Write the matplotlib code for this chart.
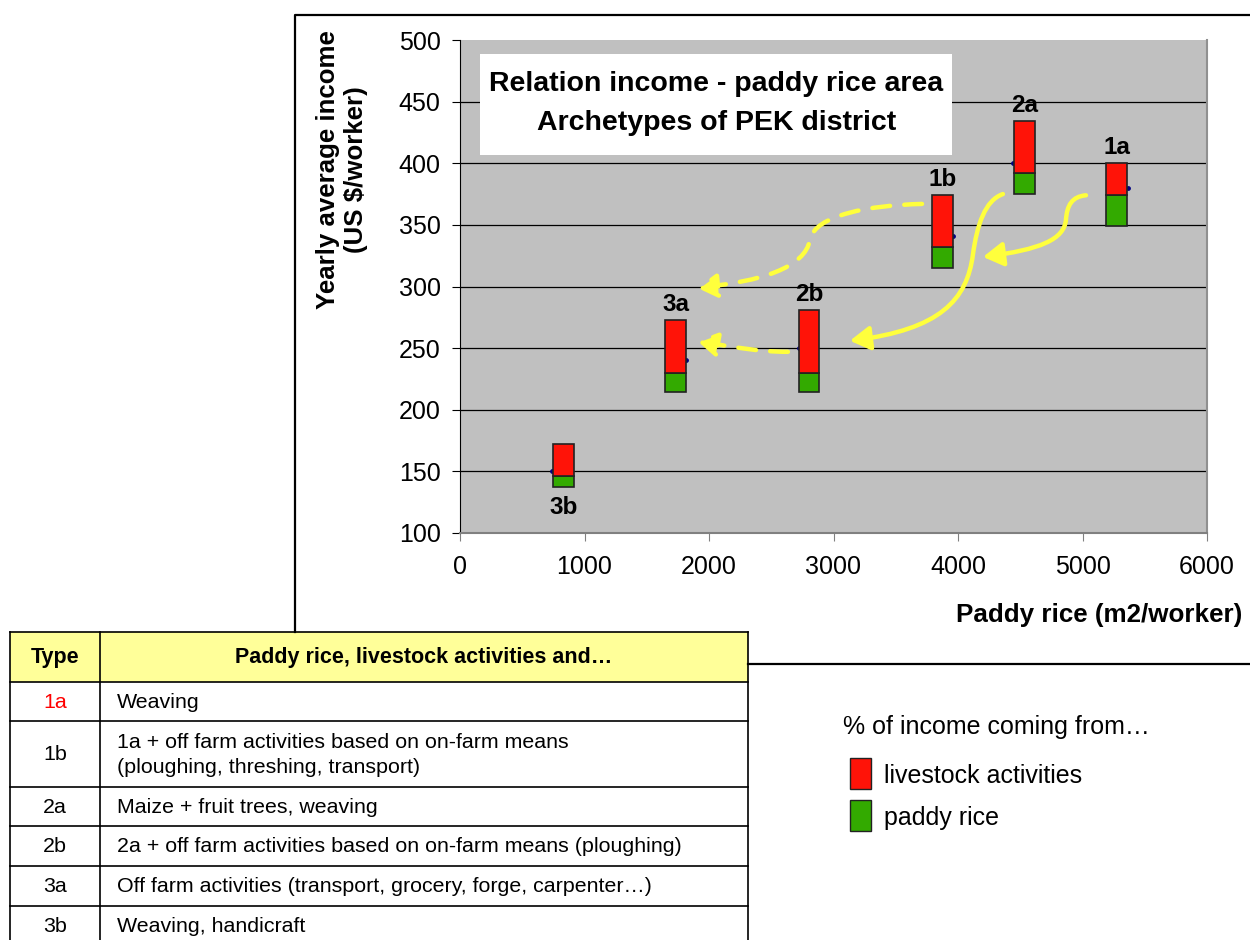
"""Income vs paddy rice area for the PEK district archetypes."""

import matplotlib

matplotlib.use("Agg")

import matplotlib.pyplot as plt
from matplotlib.patches import FancyArrowPatch, Rectangle
from matplotlib.path import Path

plt.rcParams["font.family"] = ["Liberation Sans", "DejaVu Sans"]

# archetypes, bar position on the paddy rice axis and the income spans of each bar
TYPES = ["3b", "3a", "2b", "1b", "2a", "1a"]
BAR_X = [830, 1732, 2803, 3874, 4534, 5273]
BAR_BOTTOM = [137, 214, 214, 315, 375, 349]
RICE_TOP = [146, 230, 230, 332, 392, 374]
TOTAL_TOP = [172, 273, 281, 374, 434, 400]

# the underlying data points (small dots partly hidden by the bars)
POINT_X = [740, 1815, 2720, 3960, 4440, 5365]
POINT_Y = [150, 240, 250, 341, 400, 380]

X_TICKS = [0, 1000, 2000, 3000, 4000, 5000, 6000]
Y_TICKS = [100, 150, 200, 250, 300, 350, 400, 450, 500]

TABLE_TYPES = ["1a", "1b", "2a", "2b", "3a", "3b"]
TABLE_TEXT = [
    "Weaving",
    "1a + off farm activities based on on-farm means\n(ploughing, threshing, transport)",
    "Maize + fruit trees, weaving",
    "2a + off farm activities based on on-farm means (ploughing)",
    "Off farm activities (transport, grocery, forge, carpenter\u2026)",
    "Weaving, handicraft",
]

# yellow transition arrows, cubic bezier control points in data units
ARROWS = [
    ([(5028, 374), (4916, 373), (4875, 366), (4867, 354),
      (4851, 338), (4659, 330), (4201, 324)], "-"),
    ([(4361, 375), (4217, 370), (4153, 350), (4120, 326),
      (4072, 289), (3855, 265), (3132, 256)], "-"),
    ([(3711, 367), (3293, 366), (2851, 358), (2811, 338),
      (2771, 315), (2410, 304), (1904, 299)], (0, (4, 3.2))),
    ([(2634, 247), (2410, 247), (2169, 251), (1904, 256)], (0, (4, 3.2))),
]

RED = "#FF1308"
GREEN = "#33AA00"
YELLOW = "#FFFF3C"
BAR_W = 168

fig = plt.figure(figsize=(12.5, 9.4), dpi=100)
ax = fig.add_axes([460 / 1250, 1 - 533 / 940, 747 / 1250, 493 / 940])
ax.set_facecolor("#C0C0C0")
ax.set_xlim(0, 6000)
ax.set_ylim(100, 500)
ax.set_xticks(X_TICKS)
ax.set_yticks(Y_TICKS)
ax.tick_params(axis="both", direction="out", length=6, labelsize=18)
ax.tick_params(axis="y", pad=8)
ax.tick_params(axis="x", pad=10, color="#808080")
ax.yaxis.grid(True, color="black", lw=0.9)
ax.get_ygridlines()[-1].set_visible(False)
ax.set_axisbelow(True)
ax.spines["top"].set_visible(False)
ax.spines["left"].set_color("black")
ax.spines["bottom"].set_color("#808080")
ax.spines["bottom"].set_linewidth(1.5)
ax.spines["right"].set_color("#909090")
ax.spines["right"].set_linewidth(1.5)

for t, x, b, m, top in zip(TYPES, BAR_X, BAR_BOTTOM, RICE_TOP, TOTAL_TOP):
    ax.add_patch(Rectangle((x - BAR_W / 2, b), BAR_W, m - b, fc=GREEN, ec="#222222", lw=1.2, zorder=4))
    ax.add_patch(Rectangle((x - BAR_W / 2, m), BAR_W, top - m, fc=RED, ec="#222222", lw=1.2, zorder=4))
    if t == "3b":
        ax.annotate(t, (x, b), xytext=(0, -6), textcoords="offset points",
                    ha="center", va="top", fontsize=17.5, fontweight="bold", zorder=5)
    else:
        ax.annotate(t, (x, top), xytext=(0, 3), textcoords="offset points",
                    ha="center", va="bottom", fontsize=17.5, fontweight="bold", zorder=5)

ax.scatter(POINT_X, POINT_Y, s=6, color="#000080", zorder=3)

for pts, ls in ARROWS:
    codes = [Path.MOVETO] + [Path.CURVE4] * (len(pts) - 1)
    arrow = FancyArrowPatch(path=Path(pts, codes), arrowstyle="-|>,head_length=1.0,head_width=0.6",
                            mutation_scale=12, color=YELLOW, lw=3.2, linestyle=ls, zorder=6)
    ax.add_patch(arrow)

# title box inside the plot area
ax.add_patch(Rectangle((0.027, 0.766), 0.632, 0.206, transform=ax.transAxes,
                       fc="white", ec="none", zorder=5))
ax.text(0.343, 0.871, "Relation income - paddy rice area\nArchetypes of PEK district",
        transform=ax.transAxes, ha="center", va="center", fontsize=20.5,
        fontweight="bold", linespacing=1.62, zorder=6)

# overlay in pixel units for the frame, labels, table and legend
ov = fig.add_axes([0, 0, 1, 1])
ov.set_xlim(0, 1250)
ov.set_ylim(940, 0)
ov.axis("off")

ov.plot([295, 295, 1250], [632, 15, 15], color="black", lw=1.6)
ov.plot([748, 1250], [664, 664], color="black", lw=1.6)

ov.text(342, 170, "Yearly average income\n(US $/worker)", rotation=90, ha="center", va="center",
        fontsize=18.6, fontweight="bold", linespacing=1.25)
ov.text(1242, 615, "Paddy rice (m2/worker)", ha="right", va="center", fontsize=18.7, fontweight="bold")

# table of archetypes
row_edges = [632, 682, 721, 787, 826, 866, 905.5, 945]
ov.add_patch(Rectangle((10, 632), 738, 50, fc="#FFFF99", ec="none"))
for y in row_edges[:-1]:
    ov.plot([10, 748], [y, y], color="black", lw=1.2)
for x in [10, 100, 748]:
    ov.plot([x, x], [632, 945], color="black", lw=1.2)
ov.text(55, 658, "Type", ha="center", va="center", fontsize=15.5, fontweight="bold")
ov.text(424, 658, "Paddy rice, livestock activities and\u2026", ha="center", va="center",
        fontsize=15.5, fontweight="bold")
for i, (t, desc) in enumerate(zip(TABLE_TYPES, TABLE_TEXT)):
    yc = (row_edges[i + 1] + row_edges[i + 2]) / 2 + 1
    ov.text(55, yc, t, ha="center", va="center", fontsize=15.4,
            color="#FF0000" if t == "1a" else "black")
    ov.text(117, yc, desc, ha="left", va="center", fontsize=15.4, linespacing=1.45)

# legend
ov.text(843, 727, "% of income coming from\u2026", ha="left", va="center", fontsize=18)
ov.add_patch(Rectangle((850, 758), 21, 31, fc=RED, ec="#222222", lw=1))
ov.add_patch(Rectangle((850, 800), 21, 31, fc=GREEN, ec="#222222", lw=1))
ov.text(884, 776, "livestock activities", ha="left", va="center", fontsize=18)
ov.text(884, 818, "paddy rice", ha="left", va="center", fontsize=18)

fig.savefig("out.png", dpi=100)
